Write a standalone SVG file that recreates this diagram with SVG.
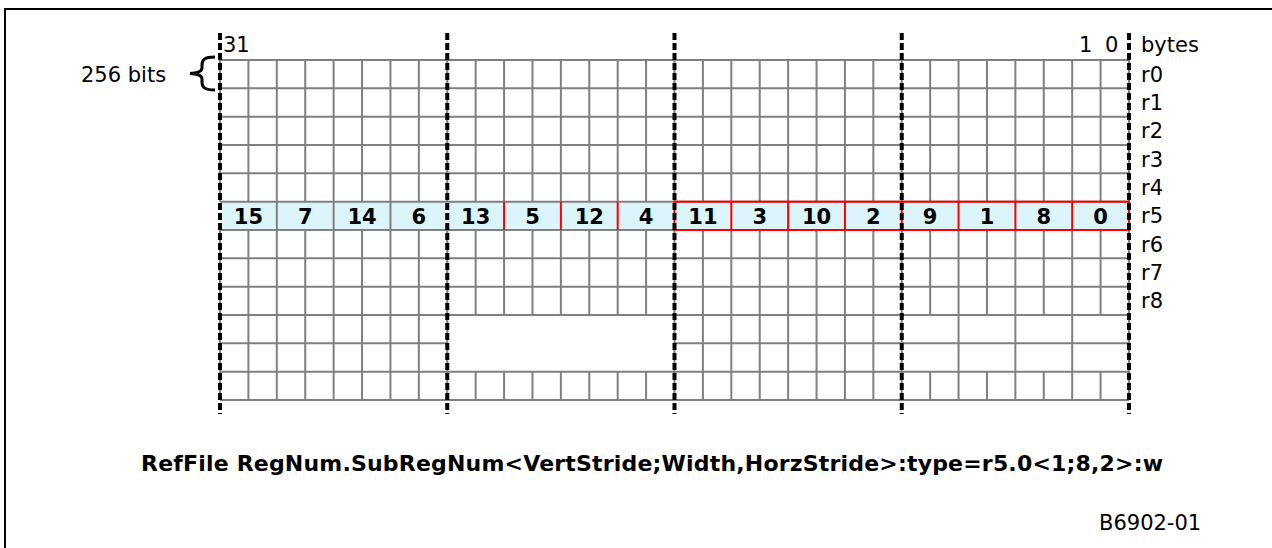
<svg xmlns="http://www.w3.org/2000/svg" width="1272" height="548" viewBox="0 0 1272 548">
<style>
.lbl{font-family:"DejaVu Sans","Liberation Sans",sans-serif;font-size:21px;fill:#000}
.num{font-family:"DejaVu Sans","Liberation Sans",sans-serif;font-size:21px;font-weight:bold;fill:#000;text-anchor:middle}
.grid{fill:none;stroke:#808080;stroke-width:2}
.red{fill:none;stroke:#ff0000;stroke-width:2}
.dash{fill:none;stroke:#000;stroke-width:4;stroke-dasharray:7 3}
</style>
<rect x="0" y="0" width="1272" height="548" fill="#fff"/>
<path id="frame" d="M5 548V9H1272" fill="none" stroke="#000" stroke-width="2"/>
<g id="register-row-r5-fill">
<rect x="220" y="201.67" width="909" height="28.33" fill="#dcf5fa"/>
</g>
<g id="grid">
<path class="grid" d="M220 60H1129M220 88.33H1129M220 116.67H1129M220 145H1129M220 173.33H1129M220 201.67H1129M220 230H1129M220 258.33H1129M220 286.67H1129M220 315H1129M220 343.33H447.25M674.5 343.33H1129M220 371.67H1129M220 400H1129"/>
<path class="grid" d="M220 60V201.67M220 230V400M248.41 60V201.67M248.41 230V400M276.81 60V400M305.22 60V201.67M305.22 230V400M333.63 60V400M362.03 60V201.67M362.03 230V400M390.44 60V400M418.84 60V201.67M418.84 230V400M447.25 60V201.67M447.25 230V400M674.5 60V201.67M674.5 230V400M702.91 60V201.67M702.91 230V400M731.31 60V201.67M731.31 230V400M759.72 60V201.67M759.72 230V400M788.13 60V201.67M788.13 230V400M816.53 60V201.67M816.53 230V400M844.94 60V201.67M844.94 230V400M873.34 60V201.67M873.34 230V400M901.75 60V201.67M901.75 230V400M958.56 60V201.67M958.56 230V400M1015.38 60V201.67M1015.38 230V400M1072.19 60V201.67M1072.19 230V400M1129 60V201.67M1129 230V400"/>
<path class="grid" d="M475.66 60V201.67M475.66 230V315M475.66 371.67V400M504.06 60V201.67M504.06 230V315M504.06 371.67V400M532.47 60V201.67M532.47 230V315M532.47 371.67V400M560.88 60V201.67M560.88 230V315M560.88 371.67V400M589.28 60V201.67M589.28 230V315M589.28 371.67V400M617.69 60V201.67M617.69 230V315M617.69 371.67V400M646.09 60V201.67M646.09 230V315M646.09 371.67V400M930.16 60V201.67M930.16 230V315M930.16 371.67V400M986.97 60V201.67M986.97 230V315M986.97 371.67V400M1043.78 60V201.67M1043.78 230V315M1043.78 371.67V400M1100.59 60V201.67M1100.59 230V315M1100.59 371.67V400"/>
</g>
<g id="register-row-r5">
<path class="red" d="M504.06 201.67V230M560.88 201.67V230M617.69 201.67V230M731.31 201.67V230M788.13 201.67V230M844.94 201.67V230M901.75 201.67V230M958.56 201.67V230M1015.38 201.67V230M1072.19 201.67V230"/>
<rect class="red" x="674.5" y="201.67" width="454.5" height="28.33"/>
<text class="num" x="248.41" y="223.5">15</text>
<text class="num" x="305.22" y="223.5">7</text>
<text class="num" x="362.03" y="223.5">14</text>
<text class="num" x="418.84" y="223.5">6</text>
<text class="num" x="475.66" y="223.5">13</text>
<text class="num" x="532.47" y="223.5">5</text>
<text class="num" x="589.28" y="223.5">12</text>
<text class="num" x="646.09" y="223.5">4</text>
<text class="num" x="702.91" y="223.5">11</text>
<text class="num" x="759.72" y="223.5">3</text>
<text class="num" x="816.53" y="223.5">10</text>
<text class="num" x="873.34" y="223.5">2</text>
<text class="num" x="930.16" y="223.5">9</text>
<text class="num" x="986.97" y="223.5">1</text>
<text class="num" x="1043.78" y="223.5">8</text>
<text class="num" x="1100.59" y="223.5">0</text>
</g>
<g id="byte-boundaries">
<path class="dash" d="M220 33V414M447.25 33V414M674.5 33V414M901.75 33V414M1129 33V414"/>
</g>
<g id="labels">
<text class="lbl" x="223" y="52">31</text>
<text class="lbl" y="52"><tspan x="1079">1</tspan><tspan x="1105">0</tspan></text>
<text class="lbl" x="1141" y="52">bytes</text>
<text class="lbl" x="1141" y="81.67">r0</text>
<text class="lbl" x="1141" y="110">r1</text>
<text class="lbl" x="1141" y="138.33">r2</text>
<text class="lbl" x="1141" y="166.67">r3</text>
<text class="lbl" x="1141" y="195">r4</text>
<text class="lbl" x="1141" y="223.33">r5</text>
<text class="lbl" x="1141" y="251.67">r6</text>
<text class="lbl" x="1141" y="280">r7</text>
<text class="lbl" x="1141" y="308.33">r8</text>
</g>
<g id="width-annotation">
<text class="lbl" x="81" y="81.7">256 bits</text>
<path d="M215 57C204 57 202 60 202 65V68C202 71 199 73 190 73.5C199 74 202 76 202 79V82C202 87 204 90 215 90" fill="none" stroke="#000" stroke-width="3"/>
</g>
<g id="caption">
<text class="lbl" x="141" y="471" textLength="1022" style="font-weight:bold;font-size:22px">RefFile RegNum.SubRegNum&lt;VertStride;Width,HorzStride&gt;:type=r5.0&lt;1;8,2&gt;:w</text>
<text class="lbl" x="1099" y="530">B6902-01</text>
</g>
</svg>
